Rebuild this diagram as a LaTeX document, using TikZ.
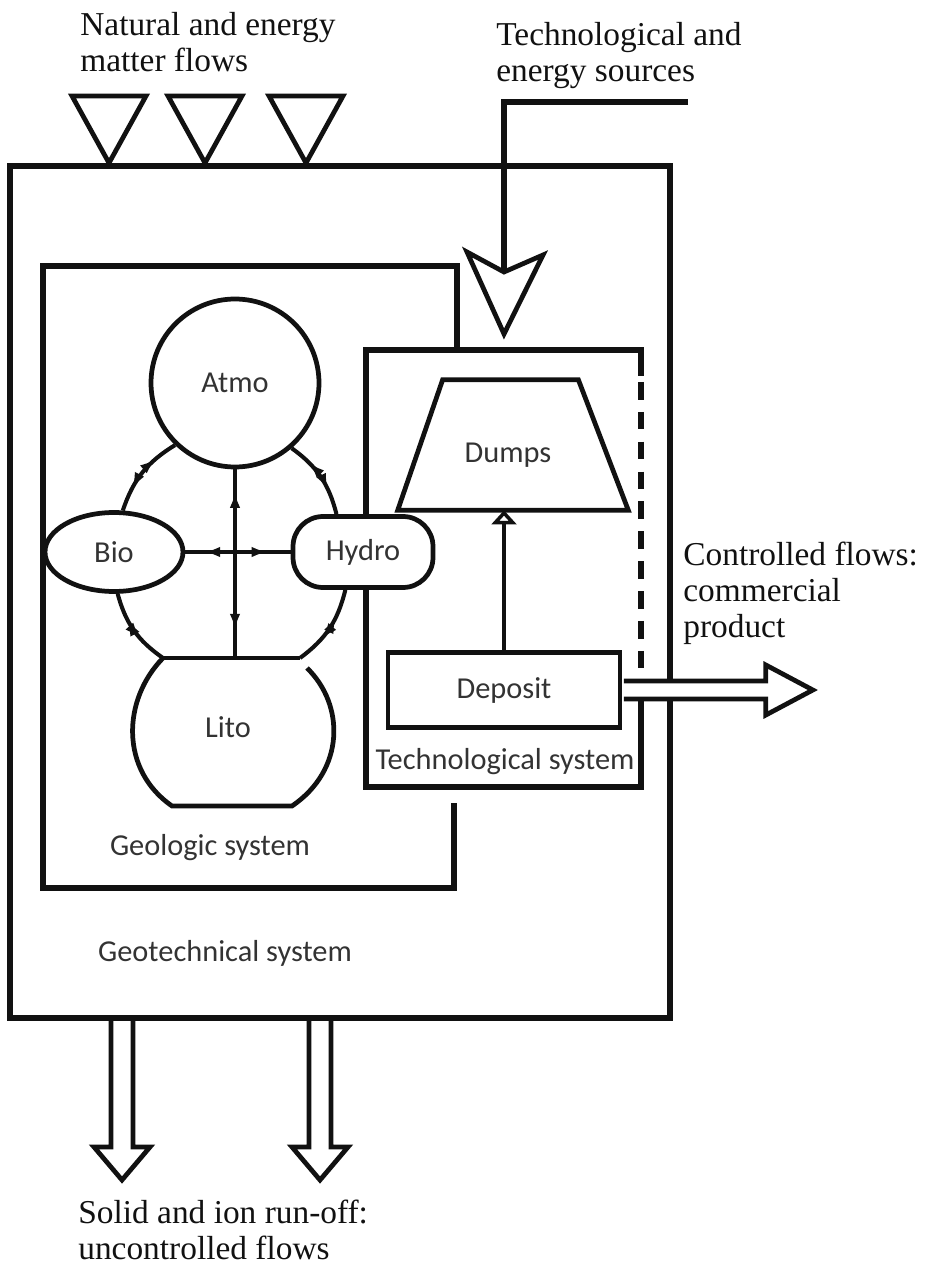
\documentclass[tikz,border=0pt]{standalone}
\usepackage{fontspec}
\setmainfont{Liberation Serif}
\newfontfamily\calib{Carlito}
\usetikzlibrary{arrows.meta,positioning,shapes.geometric,decorations.markings,calc}
\definecolor{ink}{HTML}{111111}
\definecolor{lbl}{HTML}{333333}
\tikzset{part/.style={draw=ink,line width=2.7pt,fill=white,font=\calib\fontsize{17.3}{20}\selectfont,text=lbl,inner sep=0pt}, frame/.style={draw=ink,line width=2.9pt}, outline/.style={draw=ink,line width=2.7pt}, note/.style={font=\fontsize{19}{20.4}\selectfont,align=left,inner sep=0pt,anchor=north west,text=ink}, tag/.style={font=\calib\fontsize{17.3}{20}\selectfont,text=lbl,inner sep=0pt}, link/.style={draw=ink,line width=2.3pt}, twoway/.style 2 args={link,postaction={decorate},decoration={markings,mark=at position #1 with {\arrowreversed{Latex[length=9pt,width=6pt]}},mark=at position #2 with {\arrow{Latex[length=9pt,width=6pt]}}}}, hollow/.style={draw=ink,line width=2.7pt,fill=white,line join=miter}}

\begin{document}
\begin{tikzpicture}[x=0.02cm,y=-0.02cm]
\useasboundingbox (0,0) rectangle (926,1266);
% system frames
\draw[frame] (10,166) rectangle (670,1018);
\draw[frame] (457,350) -- (457,266) -- (43,266) -- (43,888) -- (454,888) -- (454,803);
\draw[frame] (641,376) -- (641,350) -- (366,350) -- (366,787) -- (641,787) -- (641,690);
\draw[frame,dash pattern=on 10pt off 7pt] (641,382) -- (641,676);
% inflows
\foreach \x in {109,205,306}
  \draw[hollow] (\x-37,96) -- (\x+37,96) -- (\x,163) -- cycle;
\coordinate (src) at (688,102);
\coordinate (notch) at (504,272);
\draw[frame] (src) -- (src -| notch) -- (notch);
\draw[hollow] (notch) -- (467,252) -- (504,334) -- (543,255) -- cycle;
% spheres
\node[part,circle,minimum size=3.36cm] (atmo) at (235,383) {Atmo};
\node[part,ellipse,minimum width=2.76cm,minimum height=1.58cm] (bio) at (114,552) {Bio};
\node[part,rounded corners=0.6cm,minimum width=2.8cm,minimum height=1.42cm] (hydro) at (363,552) {Hydro};
\coordinate (lt) at (163,658);
\coordinate (rt) at (300,658);
\draw[outline] (lt) -- (rt);
\draw[outline] (307,668) .. controls (345,705) and (345,770) .. (292,806) -- (172,806) .. controls (120,770) and (122,700) .. (lt);
\node[tag] (lito) at (228,727) {Lito};
\draw[twoway={0.28}{0.72}] (atmo.226) to[bend right=20] (bio.78);
\draw[twoway={0.35}{0.62}] (bio.275) to[bend right=20] (lt);
\draw[twoway={0.28}{0.68}] (atmo.311) to[bend left=20] (hydro.125);
\draw[twoway={0.35}{0.65}] (hydro.245) to[bend left=20] (rt);
\draw[twoway={0.12}{0.85}] (atmo.south) -- (atmo.south |- lt);
\draw[twoway={0.18}{0.78}] (bio.east) -- (hydro.west);
% technological part
\node[minimum width=4.6cm,minimum height=2.6cm,inner sep=0pt] (dumps) at (513,445) {};
\draw[hollow] (dumps.south west) -- ($(dumps.north west)+(45,0)$) -- ($(dumps.north east)+(-50,0)$) -- (dumps.south east) -- cycle;
\node[tag] (dumpslbl) at (508,455) {Dumps};
\node[part,minimum width=4.64cm,minimum height=1.5cm] (depo) at (504,690) {Deposit};
\draw[link,-{Triangle[open,length=8pt,width=14pt]}] (depo.north) -- (depo.north |- dumps.south);
% outflows
\draw[hollow] ($(depo.east)+(1.5,-9)$) -- ++(142,0) -- ++(0,-16) -- ++(47,25) -- ++(-47,25) -- ++(0,-16) -- ++(-142,0);
\foreach \x in {122,320}
  \draw[hollow] (\x-11,1021) -- (\x-11,1147) -- (\x-28,1147) -- (\x,1180) -- (\x+28,1147) -- (\x+11,1147) -- (\x+11,1021);
% labels
\node[note] (natural) at (80,12) {Natural and energy\\matter flows};
\node[note] (techsrc) at (496,22) {Technological and\\energy sources};
\node[note] (ctrl) at (683,542) {Controlled flows:\\commercial\\product};
\node[note] (runoff) at (78,1200) {Solid and ion run-off:\\uncontrolled flows};
\node[tag] (techlbl) at (505,762) {Technological system};
\node[tag] (geolbl) at (210,848) {Geologic system};
\node[tag] (geotlbl) at (225,953) {Geotechnical system};
\end{tikzpicture}
\end{document}
